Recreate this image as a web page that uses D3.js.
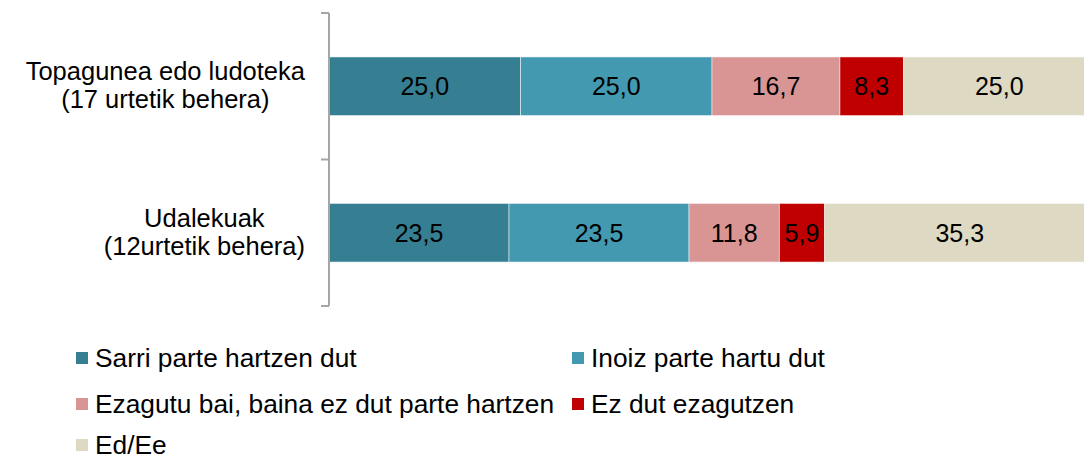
<!DOCTYPE html>
<html>
<head>
<meta charset="utf-8">
<script src="https://cdn.jsdelivr.net/npm/d3@7"></script>
<style>
  body { margin: 0; background: #fff; }
  text { font-family: "Liberation Sans", Arial, sans-serif; }
</style>
</head>
<body>
<div id="chart"></div>
<script>
// Data
var categories = [
    ["Topagunea edo ludoteka", "(17 urtetik behera)"],
    ["Udalekuak", "(12urtetik behera)"]
];
var seriesNames = ["Sarri parte hartzen dut", "Inoiz parte hartu dut",
                   "Ezagutu bai, baina ez dut parte hartzen", "Ez dut ezagutzen", "Ed/Ee"];
var seriesColors = ["#367F93", "#4399B0", "#D99594", "#C00000", "#DDD9C3"];
var values = [
    [25.0, 25.0, 16.7, 8.3, 25.0],
    [23.5, 23.5, 11.8, 5.9, 35.3]
];

var width = 1084,
    height = 459;

var svg = d3.select("#chart")
            .append("svg")
            .attr("width", width)
            .attr("height", height);

// Scales
var x = d3.scaleLinear().domain([0, 100]).range([329, 1095]);
var y = d3.scaleBand()
          .domain(d3.range(categories.length))
          .range([13, 306])
          .paddingInner(0.6)
          .paddingOuter(0.3);

// Build stacked rows
var stack = values.map(function(row, i) {
    var acc = 0;
    return row.map(function(v, j) {
        var seg = {row: i, series: j, v: v, x0: acc, x1: acc + v};
        acc += v;
        return seg;
    });
});

var bars = svg.append("g");
stack.forEach(function(row) {
    bars.selectAll(null)
        .data(row)
        .enter().append("rect")
        .attr("x", d => x(d.x0))
        .attr("y", d => y(d.row))
        .attr("width", d => x(d.x1) - x(d.x0))
        .attr("height", y.bandwidth())
        .attr("fill", d => seriesColors[d.series])
        .attr("stroke", "#ffffff")
        .attr("stroke-opacity", 0.5)
        .attr("stroke-width", 1);

    bars.selectAll(null)
        .data(row)
        .enter().append("text")
        .attr("x", d => (x(d.x0) + x(d.x1)) / 2)
        .attr("y", d => y(d.row) + y.bandwidth() / 2)
        .attr("dy", "0.36em")
        .attr("text-anchor", "middle")
        .attr("font-size", 25)
        .attr("fill", "#000")
        .text(d => d.v.toFixed(1).replace(".", ","));
});

// Category axis (line with ticks between categories)
var axis = svg.append("g").attr("stroke", "#A6A6A6").attr("stroke-width", 2);
axis.append("line").attr("x1", 329).attr("x2", 329).attr("y1", 13).attr("y2", 306);
[13, 159.5, 306].forEach(function(ty) {
    axis.append("line").attr("x1", 321).attr("x2", 329).attr("y1", ty).attr("y2", ty);
});

// Category labels, each block centered on its longest line, right edge at 305
categories.forEach(function(lines, i) {
    var g = svg.append("g");
    var cy = y(i) + y.bandwidth() / 2;
    var texts = lines.map(function(s, k) {
        return g.append("text")
                .attr("y", cy + (k - (lines.length - 1) / 2) * 28 - 1)
                .attr("dy", "0.36em")
                .attr("text-anchor", "middle")
                .attr("font-size", 25.5)
                .attr("fill", "#000")
                .text(s);
    });
    var maxW = d3.max(texts, t => t.node().getComputedTextLength());
    texts.forEach(t => t.attr("x", 305 - maxW / 2));
});

// Legend
var legendPos = [[76, 358], [572, 358], [76, 404], [572, 404], [76, 445]];
var legend = svg.append("g");
seriesNames.forEach(function(name, i) {
    var p = legendPos[i];
    legend.append("rect")
          .attr("x", p[0]).attr("y", p[1] - 6)
          .attr("width", 12).attr("height", 12)
          .attr("fill", seriesColors[i]);
    legend.append("text")
          .attr("x", p[0] + 19).attr("y", p[1])
          .attr("dy", "0.36em")
          .attr("font-size", 26.3)
          .attr("fill", "#000")
          .text(name);
});
</script>
</body>
</html>
